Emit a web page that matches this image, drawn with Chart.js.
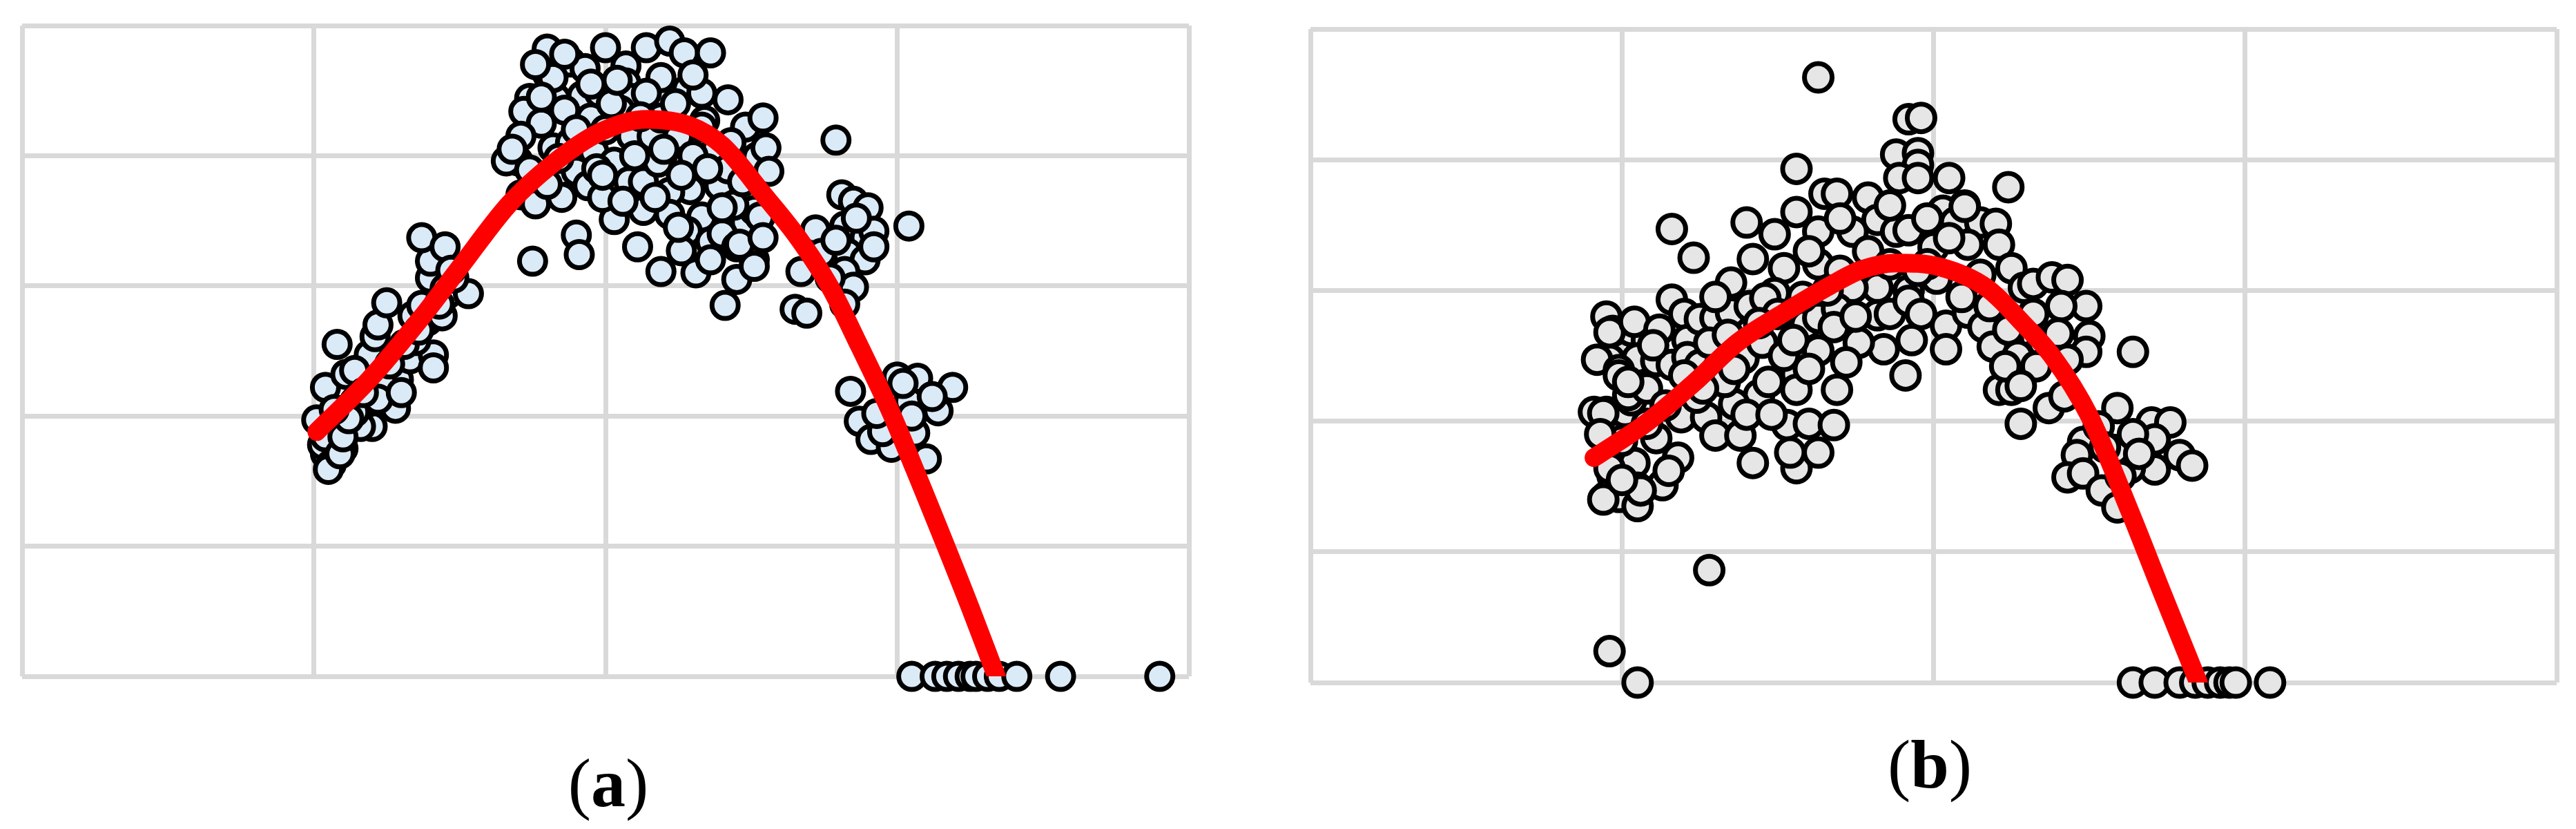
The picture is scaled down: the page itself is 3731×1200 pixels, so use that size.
<!DOCTYPE html>
<html>
<head>
<meta charset="utf-8">
<script src="https://cdn.jsdelivr.net/npm/chart.js@4"></script>
<style>
  html, body { margin: 0; padding: 0; background: #ffffff; }
  body { width: 3731px; height: 1200px; position: relative; overflow: hidden; }
  canvas { position: absolute; top: 0; }
  #ca { left: 0; }
  #cb { left: 1860px; }
  .lab { position: absolute; width: 300px; text-align: center; font-family: "Liberation Serif", "Times New Roman", serif;
         font-size: 100px; line-height: 100px; color: #000; }
  .lab b { font-weight: bold; }
</style>
</head>
<body>
<canvas id="ca" width="1790" height="1050"></canvas>
<canvas id="cb" width="1871" height="1050"></canvas>
<div class="lab" style="left:731px; top:1084px;">(<b>a</b>)</div>
<div class="lab" style="left:2645px; top:1057px;">(<b>b</b>)</div>
<script>
// ---- axis ticks (no labels shown) ----
const xTicks = [0, 1, 2, 3, 4];
const yTicks = [0, 1, 2, 3, 4, 5];

// ---- panel (a): observations ----
const aX = [
 1.04,1.03,1.01,1.04,1.08,1.11,1.14,1.08,1.10,1.06,1.19,1.21,1.22,1.25,1.20,1.19,1.28,1.29,1.24,1.33,
 1.34,1.39,1.41,1.41,1.37,1.40,1.40,1.37,1.45,1.45,1.44,1.46,1.53,1.48,1.35,1.16,1.14,1.04,1.05,1.09,
 1.10,1.22,1.14,1.12,1.17,1.26,1.31,1.36,1.43,1.47,1.30,1.07,
 1.80,1.88,2.00,2.14,2.22,2.27,2.36,1.80,1.93,2.07,2.07,2.19,2.28,2.33,2.42,1.83,1.74,1.92,1.98,2.09,
 2.14,1.72,1.78,1.71,1.70,1.66,1.74,1.71,1.76,1.84,1.85,1.90,1.94,1.96,2.03,2.03,2.08,2.13,2.13,2.09,
 2.16,2.25,2.28,2.29,2.33,2.28,2.26,2.19,2.11,1.90,1.91,1.75,2.39,2.34,2.48,2.48,2.45,2.41,2.36,2.22,
 1.99,1.82,2.19,1.95,1.82,2.51,2.51,2.52,
 1.88,2.00,2.05,1.86,2.24,2.38,2.42,2.44,2.40,2.18,1.97,1.80,2.06,2.22,2.31,2.36,2.45,2.43,2.30,1.68,
 1.95,2.02,2.12,2.20,2.26,2.35,1.90,1.84,1.78,2.10,2.17,2.25,1.99,2.04,2.30,1.76,1.86,2.40,2.47,
 2.54,2.55,2.56,2.33,2.53,2.46,2.54,2.51,2.79,
 2.81,2.85,2.90,2.72,2.82,2.89,2.92,2.74,2.83,2.89,2.67,2.82,2.85,2.65,2.69,2.82,2.92,2.77,2.86,2.79,
 3.04,
 2.84,3.00,3.07,3.19,3.09,3.04,2.87,2.91,2.98,3.03,3.14,3.10,2.95,3.06,3.02,3.12,3.05,2.93,
 3.05,3.13,3.17,3.21,3.25,3.27,3.31,3.35,3.41,3.56,3.90
];
const aY = [
 1.71,1.78,1.97,2.22,2.55,2.32,2.11,1.92,1.75,1.63,2.47,2.61,2.70,2.87,1.92,2.11,2.06,2.28,2.23,2.44,
 2.77,2.73,2.47,2.37,2.85,3.06,3.19,3.37,3.30,2.98,2.77,2.94,2.94,3.06,2.58,1.92,2.35,1.84,1.59,1.71,
 1.84,2.13,2.03,1.98,2.18,2.40,2.55,2.66,2.86,3.12,2.18,2.05,
 4.82,4.72,4.83,4.83,4.88,4.79,4.79,4.63,4.67,4.69,4.56,4.60,4.51,4.48,4.43,4.44,4.44,4.46,4.48,4.44,
 4.48,4.34,4.25,4.15,3.96,3.96,3.89,3.70,3.63,3.87,3.68,3.88,3.77,4.03,3.95,3.51,3.80,3.80,3.58,4.15,
 4.15,4.15,3.94,3.74,3.53,3.42,3.27,3.11,3.30,3.39,3.24,3.19,3.77,4.27,4.22,3.49,3.05,2.85,3.34,3.72,
 3.68,4.06,4.29,4.29,4.60,3.20,3.58,3.99,
 4.10,4.20,4.35,4.35,4.40,4.05,3.90,3.62,3.40,3.95,3.90,3.78,3.65,3.55,3.10,3.20,3.30,4.10,4.00,4.05,
 4.55,4.40,4.30,4.05,3.85,3.90,4.20,3.98,4.45,4.00,3.68,3.45,3.85,4.58,4.62,4.70,4.78,3.60,3.80,
 4.29,4.06,3.88,4.22,3.53,3.32,3.37,3.15,4.12,
 3.70,3.65,3.60,3.43,3.46,3.37,3.42,3.25,3.25,3.20,3.11,3.11,2.99,2.82,2.79,2.86,3.30,3.06,3.52,3.35,
 3.46,
 2.19,2.30,2.29,2.22,2.09,2.11,1.96,1.82,1.76,1.92,2.04,1.67,1.88,1.87,2.25,2.15,2.00,2.02,
 0,0,0,0,0,0,0,0,0,0,0
];
// ---- panel (a): fitted curve ----
const aCurveX = [1.01, 1.19, 1.37, 1.50, 1.67, 1.82, 1.98, 2.14, 2.29, 2.40, 2.55, 2.66, 2.77, 2.87, 2.98, 3.06, 3.25, 3.34];
const aCurveY = [1.88, 2.28, 2.76, 3.14, 3.63, 3.94, 4.18, 4.28, 4.23, 4.08, 3.68, 3.37, 2.99, 2.54, 2.02, 1.59, 0.53, 0.00];

// ---- panel (b): observations ----
const bX = [
 1.63,1.92,1.96,1.88,1.95,1.95,1.89,1.95,1.56,2.05,2.24,2.10,2.03,2.07,2.15,2.20,2.21,2.11,1.16,1.23,
 1.40,1.49,1.65,1.69,1.79,1.82,1.88,1.92,1.63,1.74,1.42,1.35,1.63,1.52,1.49,1.79,2.00,2.25,2.15,2.01,
 1.92,1.82,1.74,2.29,1.16,1.20,0.95,0.97,1.03,1.08,1.21,1.25,1.30,1.35,1.41,1.46,1.50,1.59,1.63,1.69,
 1.82,1.86,1.92,1.96,2.04,2.11,2.16,2.24,1.93,1.84,2.04,1.91,1.63,1.68,1.56,1.56,1.69,1.44,1.36,1.39,
 0.96,0.92,1.05,0.99,1.11,1.16,1.21,1.25,1.31,0.95,0.91,1.01,1.03,1.19,1.27,1.30,1.38,1.53,1.60,1.68,
 1.42,1.56,1.63,1.54,1.18,1.11,1.04,1.13,1.05,0.95,0.99,1.05,0.97,2.28,2.21,2.25,2.24,2.19,
 0.96,1.04,0.99,0.94,1.02,0.96,1.06,0.94,0.96,1.05,1.28,
 1.08,1.14,1.24,1.33,1.28,1.45,1.52,1.58,1.70,1.76,1.86,1.98,1.47,1.34,1.12,1.40,1.72,1.08,1.20,1.00,
 1.70,1.60,1.56,1.86,1.98,2.05,1.95,1.66,1.30,1.44,1.55,1.26,1.02,1.10,1.48,1.60,1.75,2.09,2.18,2.35,
 2.27,1.36,1.15,1.00,0.93,
 2.10,2.32,2.38,2.43,2.49,2.41,2.32,2.24,2.40,2.50,2.49,2.43,2.33,2.23,2.28,2.37,2.42,2.64,
 2.59,2.70,2.76,2.71,2.79,2.83,2.71,2.63,2.58,2.48,2.46,2.43,2.48,2.54,2.59,2.60,2.53,2.64,2.55,2.66,
 2.64,2.71,2.79,2.84,2.88,2.92,2.95,2.97,3.08
];
const bY = [
 4.63,4.31,4.32,4.04,4.05,3.96,3.86,3.86,3.93,3.86,3.79,3.65,3.61,3.52,3.52,3.51,3.35,3.35,3.47,3.25,
 3.52,3.43,3.74,3.74,3.71,3.54,3.45,3.46,3.45,3.45,3.24,3.06,3.20,3.17,2.98,3.30,3.33,3.17,3.12,3.09,
 3.00,3.02,3.02,3.02,2.93,2.82,2.80,2.69,2.69,2.62,2.62,2.78,2.79,2.83,2.88,2.94,2.82,2.74,2.79,2.86,
 2.81,2.82,2.92,2.82,2.73,2.83,2.72,2.60,2.62,2.55,2.55,2.35,2.54,2.72,2.36,2.24,2.24,2.20,2.13,2.48,
 2.47,2.47,2.48,2.39,2.46,2.43,2.49,2.43,2.41,2.07,2.07,2.07,2.16,2.03,2.03,1.89,1.89,1.97,1.98,1.97,
 1.68,1.64,1.76,1.76,1.72,1.87,1.68,1.51,1.49,1.42,1.42,1.35,1.58,1.98,2.24,2.24,2.42,2.57,
 2.68,2.76,2.35,2.06,2.20,1.64,1.47,1.40,0.24,0.00,0.86,
 2.25,2.12,2.18,2.30,2.60,2.60,2.50,2.95,3.15,2.60,3.20,3.20,2.30,2.66,2.70,2.05,2.45,1.98,2.35,1.85,
 3.55,3.30,3.60,3.65,3.55,3.40,3.15,3.00,2.95,2.75,2.62,2.25,2.30,2.58,2.05,2.40,2.80,2.95,2.88,2.60,
 2.50,2.40,1.62,1.55,1.90,
 3.64,3.05,3.10,3.08,2.88,2.88,2.82,2.70,2.67,2.65,2.53,2.47,2.42,2.42,2.27,2.10,2.19,2.53,
 2.10,1.99,1.99,1.86,1.74,1.66,1.63,1.64,1.78,1.84,1.74,1.57,1.60,1.47,1.34,1.58,1.96,1.90,1.80,1.75,
 0,0,0,0,0,0,0,0,0
];
// ---- panel (b): fitted curve ----
const bCurveX = [0.91, 1.08, 1.23, 1.37, 1.52, 1.67, 1.77, 1.88, 2.02, 2.17, 2.29, 2.38, 2.50, 2.63, 2.73, 2.85];
const bCurveY = [1.72, 1.99, 2.29, 2.60, 2.83, 3.04, 3.16, 3.21, 3.18, 3.02, 2.74, 2.50, 2.04, 1.31, 0.71, 0.00];

function pairs(xs, ys) { return xs.map((x, i) => ({ x: x, y: ys[i] })); }

function makeChart(id, xs, ys, cx, cy, fill, radius, pad) {
  const gridOpts = { color: '#d9d9d9', lineWidth: 7, drawTicks: false };
  return new Chart(document.getElementById(id), {
    type: 'scatter',
    data: {
      datasets: [
        {
          type: 'line',
          data: pairs(cx, cy),
          showLine: true,
          borderColor: '#ff0000',
          borderWidth: 27,
          pointRadius: 0,
          fill: false,
          cubicInterpolationMode: 'monotone',
          borderCapStyle: 'round',
          borderJoinStyle: 'round',
          order: 0
        },
        {
          data: pairs(xs, ys),
          backgroundColor: fill,
          borderColor: '#000000',
          borderWidth: 7,
          pointRadius: radius,
          pointHoverRadius: radius,
          clip: false,
          order: 1
        }
      ]
    },
    options: {
      responsive: false,
      animation: false,
      events: [],
      layout: { padding: pad },
      plugins: { legend: { display: false }, tooltip: { enabled: false } },
      scales: {
        x: {
          type: 'linear', min: xTicks[0], max: xTicks[xTicks.length - 1],
          afterBuildTicks: (s) => { s.ticks = xTicks.map(v => ({ value: v })); },
          ticks: { display: false },
          grid: gridOpts,
          border: { display: false }
        },
        y: {
          type: 'linear', min: yTicks[0], max: yTicks[yTicks.length - 1],
          afterBuildTicks: (s) => { s.ticks = yTicks.map(v => ({ value: v })); },
          ticks: { display: false },
          grid: gridOpts,
          border: { display: false }
        }
      }
    }
  });
}

makeChart('ca', aX, aY, aCurveX, aCurveY, '#dbeaf7', 19, { left: 32, top: 37, right: 68, bottom: 71 });
makeChart('cb', bX, bY, bCurveX, bCurveY, '#e6e6e6', 20, { left: 38, top: 42, right: 28, bottom: 62 });
</script>
</body>
</html>
